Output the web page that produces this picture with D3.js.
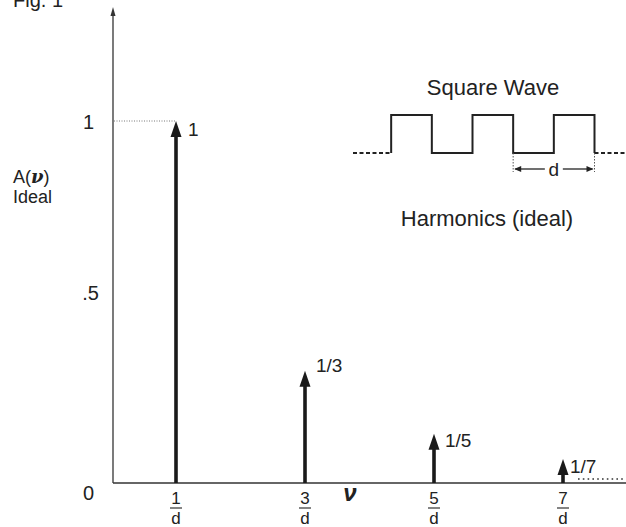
<!DOCTYPE html>
<html><head><meta charset="utf-8">
<script src="https://cdn.jsdelivr.net/npm/d3@7"></script>
<style>body{margin:0;background:#fff}svg{display:block}text{font-family:Arial,"Liberation Sans",sans-serif;fill:#222}</style>
</head><body><svg id="c" width="626" height="527"></svg>
<script>
const harmonics = [1, 3, 5, 7];
const amplitudes = [1, 0.31, 0.136, 0.066];
const ampLabels = ["1", "1/3", "1/5", "1/7"];
const yTicks = [0, 0.5, 1];
const yTickLabels = ["0", ".5", "1"];

const svg = d3.select("#c");
const x = d3.scaleLinear().domain([0, 8]).range([111.5, 627.5]);
const y = d3.scaleLinear().domain([0, 1]).range([483, 121]);
const ink = "#1a1a1a";

// Fig label (clipped at top, as in the reference)
svg.append("text").attr("x",13).attr("y",7).attr("font-size",20).text("Fig. 1");

// y axis
svg.append("line").attr("x1",113).attr("x2",113).attr("y1",y(0)).attr("y2",12)
  .attr("stroke","#333").attr("stroke-width",1.3);
svg.append("path").attr("d","M110.5,16 L113,7 L115.5,16 Z").attr("fill","#333");
// x axis
svg.append("line").attr("x1",113).attr("x2",626).attr("y1",y(0)).attr("y2",y(0))
  .attr("stroke","#333").attr("stroke-width",1.5);
svg.append("line").attr("x1",578).attr("x2",626).attr("y1",y(0)-4).attr("y2",y(0)-4)
  .attr("stroke","#333").attr("stroke-width",1.6).attr("stroke-dasharray","1.6,3.2");

// y tick labels
svg.selectAll(".yt").data(yTicks).join("text").attr("class","yt")
  .attr("x",(d,i)=> i===1 ? 99 : 94).attr("text-anchor","end")
  .attr("y",(d,i)=> i===0 ? y(d)+17 : (i===1 ? y(d)-2 : y(d)+8))
  .attr("font-size",20).text((d,i)=>yTickLabels[i]);

// dotted reference line at 1
svg.append("line").attr("x1",114).attr("x2",x(1)).attr("y1",y(1)).attr("y2",y(1))
  .attr("stroke","#555").attr("stroke-width",0.8).attr("stroke-dasharray","1,1.5");

// axis title A(v) Ideal
const at = svg.append("text").attr("x",13).attr("y",183).attr("font-size",18);
at.append("tspan").text("A(");
at.append("tspan").attr("font-family","'DejaVu Serif',serif").attr("font-style","italic").attr("font-weight","bold").text("ν");
at.append("tspan").text(")");
svg.append("text").attr("x",13).attr("y",203).attr("font-size",18).text("Ideal");

// harmonic arrows
const g = svg.selectAll(".h").data(harmonics).join("g").attr("class","h");
g.append("line").attr("x1",d=>x(d)).attr("x2",d=>x(d)).attr("y1",y(0))
  .attr("y2",(d,i)=>y(amplitudes[i])+12).attr("stroke",ink).attr("stroke-width",3.6);
g.append("path").attr("d",(d,i)=>{const cx=x(d), ty=y(amplitudes[i]);return `M${cx-5.5},${ty+16} L${cx},${ty} L${cx+5.5},${ty+16} Z`;}).attr("fill",ink);
g.append("text").attr("x",(d,i)=>x(d)+(i===0?12:(i===3?7:11))).attr("y",(d,i)=>y(amplitudes[i])+ (i===0?15:(i===3?14:(i===2?13:1))))
  .attr("font-size",19).text((d,i)=>ampLabels[i]);
// fraction tick labels
g.append("text").attr("x",d=>x(d)).attr("y",504).attr("text-anchor","middle").attr("font-size",17).text(d=>d);
g.append("line").attr("x1",d=>x(d)-6).attr("x2",d=>x(d)+6).attr("y1",508).attr("y2",508).attr("stroke","#333").attr("stroke-width",1.2);
g.append("text").attr("x",d=>x(d)).attr("y",524).attr("text-anchor","middle").attr("font-size",17).text("d");

// nu label on x axis
svg.append("text").attr("x",350).attr("y",501).attr("text-anchor","middle")
  .attr("font-family","'DejaVu Serif',serif").attr("font-style","italic").attr("font-weight","bold")
  .attr("font-size",24).text("ν");

// Square wave inset
svg.append("text").attr("x",493).attr("y",95).attr("text-anchor","middle").attr("font-size",22).text("Square Wave");
const wx = d3.scaleLinear().domain([0, 12]).range([350.5, 594.5]);
const wy = d3.scaleLinear().domain([0, 1]).range([153, 115]);
const halfs = [2,4,6,8,10,12];
const pts = [[2,0]];
for (let i = 0; i < halfs.length - 1; i++) {
  const l = (i % 2 === 0) ? 1 : 0;
  pts.push([halfs[i], l]); pts.push([halfs[i+1], l]);
}
pts.push([12,0]);
svg.append("path").attr("d", d3.line().x(d=>wx(d[0])).y(d=>wy(d[1]))(pts))
  .attr("fill","none").attr("stroke","#222").attr("stroke-width",2);
svg.append("line").attr("x1",353).attr("x2",wx(2)).attr("y1",wy(0)).attr("y2",wy(0))
  .attr("stroke","#222").attr("stroke-width",1.8).attr("stroke-dasharray","4,2.5");
svg.append("line").attr("x1",wx(12)).attr("x2",626).attr("y1",wy(0)).attr("y2",wy(0))
  .attr("stroke","#222").attr("stroke-width",1.8).attr("stroke-dasharray","4,2.5");
// d dimension
[8,12].forEach(k=>svg.append("line").attr("x1",wx(k)).attr("x2",wx(k)).attr("y1",wy(0)).attr("y2",172)
  .attr("stroke","#555").attr("stroke-width",1).attr("stroke-dasharray","1.5,1.5"));
const dm = (wx(8)+wx(12))/2;
svg.append("line").attr("x1",wx(8)+2).attr("x2",dm-9).attr("y1",169).attr("y2",169).attr("stroke","#222").attr("stroke-width",1.3);
svg.append("line").attr("x1",dm+9).attr("x2",wx(12)-2).attr("y1",169).attr("y2",169).attr("stroke","#222").attr("stroke-width",1.3);
svg.append("path").attr("d",`M${wx(8)+1},169 L${wx(8)+8},166 L${wx(8)+8},172 Z`).attr("fill","#222");
svg.append("path").attr("d",`M${wx(12)-1},169 L${wx(12)-8},166 L${wx(12)-8},172 Z`).attr("fill","#222");
svg.append("text").attr("x",dm).attr("y",176).attr("text-anchor","middle").attr("font-size",19).text("d");
svg.append("text").attr("x",487).attr("y",226).attr("text-anchor","middle").attr("font-size",22).text("Harmonics (ideal)");
</script></body></html>
